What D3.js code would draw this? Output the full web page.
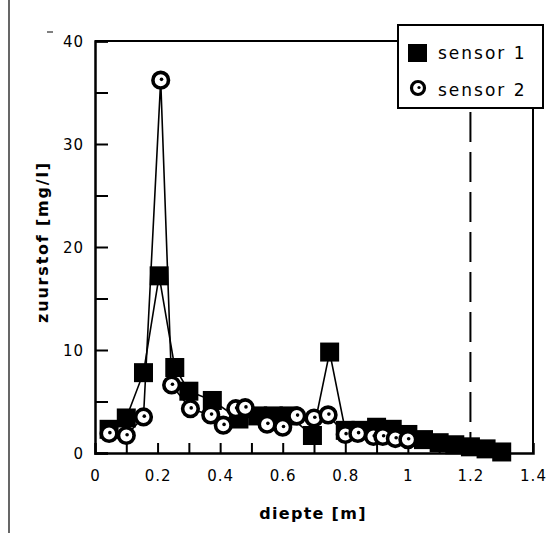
<!DOCTYPE html>
<html>
<head>
<meta charset="utf-8">
<script src="https://cdn.jsdelivr.net/npm/d3@7"></script>
<style>
  html, body { margin: 0; padding: 0; background: #fff; }
  svg { display: block; }
  text { font-family: "DejaVu Sans", "Liberation Sans", sans-serif; fill: #000; }
</style>
</head>
<body>
<svg id="chart" width="546" height="533"></svg>
<script>
// ---- data ----
const sensor1X = [0.045, 0.10, 0.155, 0.205, 0.255, 0.30, 0.375, 0.46, 0.52, 0.57, 0.62, 0.695, 0.75, 0.80, 0.85, 0.90, 0.95, 1.00, 1.05, 1.10, 1.15, 1.20, 1.25, 1.30];
const sensor1Y = [2.3, 3.4, 7.8, 17.2, 8.3, 6.0, 5.1, 3.3, 3.6, 3.6, 3.6, 1.7, 9.8, 2.2, 2.2, 2.5, 2.3, 1.8, 1.3, 1.0, 0.8, 0.6, 0.4, 0.1];
const sensor2X = [0.045, 0.10, 0.155, 0.21, 0.245, 0.305, 0.37, 0.41, 0.45, 0.48, 0.55, 0.60, 0.645, 0.70, 0.745, 0.80, 0.84, 0.89, 0.92, 0.96, 1.00];
const sensor2Y = [1.9, 1.7, 3.5, 36.2, 6.6, 4.3, 3.7, 2.7, 4.3, 4.4, 2.8, 2.5, 3.6, 3.4, 3.7, 1.8, 1.9, 1.6, 1.6, 1.4, 1.3];
const xTicks = [0, 0.2, 0.4, 0.6, 0.8, 1.0, 1.2, 1.4];
const xTickLabels = ["0", "0.2", "0.4", "0.6", "0.8", "1", "1.2", "1.4"];
const xMinorTicks = [0.1, 0.2, 0.3, 0.4, 0.5, 0.6, 0.7, 0.8, 0.9, 1.0, 1.1, 1.2, 1.3];
const yTicks = [0, 5, 10, 15, 20, 25, 30, 35, 40];
const yTickLabels = ["0", "", "10", "", "20", "", "30", "", "40"];
const seriesNames = ["sensor 1", "sensor 2"];
const markerLine = 1.2; // dashed reference depth
const xLabel = "diepte [m]";
const yLabel = "zuurstof [mg/l]";

// ---- layout ----
const svg = d3.select("#chart");
const L = 95, R = 533, T = 41, B = 453;
const x = d3.scaleLinear().domain([0, 1.4]).range([L, R]);
const y = d3.scaleLinear().domain([0, 40]).range([B, T]);

// scan-edge artifact line at far left
svg.append("line").attr("x1", 9).attr("x2", 9).attr("y1", 0).attr("y2", 533)
  .attr("stroke", "#000").attr("stroke-width", 1.2);
svg.append("line").attr("x1", 47).attr("x2", 53).attr("y1", 32).attr("y2", 32)
  .attr("stroke", "#000").attr("stroke-width", 1);

// frame
const frame = svg.append("g");
frame.append("line").attr("x1", L).attr("x2", 398).attr("y1", T).attr("y2", T).attr("stroke", "#000").attr("stroke-width", 2);
frame.append("line").attr("x1", R).attr("x2", R).attr("y1", 108).attr("y2", B).attr("stroke", "#000").attr("stroke-width", 2);

// y axis (inward ticks)
const yAxis = d3.axisLeft(y).tickValues(yTicks).tickSize(-13).tickPadding(11)
  .tickFormat((d, i) => yTickLabels[i]);
const gy = svg.append("g").attr("transform", `translate(${L},0)`).call(yAxis);
gy.select(".domain").attr("stroke", "#000").attr("stroke-width", 2.5);
gy.selectAll(".tick line").attr("stroke", "#000").attr("stroke-width", 2);
gy.selectAll(".tick text").style("font-size", "15px").attr("letter-spacing", "1px").attr("dy", "0.36em");

// x axis minor inward ticks
const xAxisMinor = d3.axisBottom(x).tickValues(xMinorTicks).tickSize(-10).tickFormat("");
const gxm = svg.append("g").attr("transform", `translate(0,${B})`).call(xAxisMinor);
gxm.select(".domain").attr("stroke", "#000").attr("stroke-width", 2.5);
gxm.selectAll(".tick line").attr("stroke", "#000").attr("stroke-width", 2);

// x axis labels
const xAxis = d3.axisBottom(x).tickValues(xTicks).tickSize(0).tickPadding(17)
  .tickFormat((d, i) => xTickLabels[i]);
const gx = svg.append("g").attr("transform", `translate(0,${B})`).call(xAxis);
gx.select(".domain").remove();
gx.selectAll(".tick text").style("font-size", "15px").attr("letter-spacing", "1px");

// axis titles
svg.append("text").attr("x", 313).attr("y", 519).attr("text-anchor", "middle")
  .style("font-size", "16px").style("font-weight", "bold").attr("letter-spacing", "1.3px").text(xLabel);
svg.append("text").attr("transform", "translate(48,242) rotate(-90)").attr("text-anchor", "middle")
  .style("font-size", "16px").style("font-weight", "bold").attr("letter-spacing", "1.8px").text(yLabel);

// dashed reference line
svg.append("line").attr("x1", x(markerLine)).attr("x2", x(markerLine))
  .attr("y1", 112).attr("y2", B)
  .attr("stroke", "#000").attr("stroke-width", 2).attr("stroke-dasharray", "30,10");

// series
const s1 = sensor1X.map((v, i) => [v, sensor1Y[i]]);
const s2 = sensor2X.map((v, i) => [v, sensor2Y[i]]);
const line = d3.line().x(d => x(d[0])).y(d => y(d[1]));

svg.append("path").datum(s1).attr("d", line).attr("fill", "none").attr("stroke", "#000").attr("stroke-width", 1.6);
const sq = 19;
svg.append("g").selectAll("rect").data(s1).join("rect")
  .attr("x", d => x(d[0]) - sq / 2).attr("y", d => y(d[1]) - sq / 2)
  .attr("width", sq).attr("height", sq).attr("fill", "#000");

svg.append("path").datum(s2).attr("d", line).attr("fill", "none").attr("stroke", "#000").attr("stroke-width", 1.6);
const g2 = svg.append("g").selectAll("g").data(s2).join("g")
  .attr("transform", d => `translate(${x(d[0])},${y(d[1])})`);
g2.append("circle").attr("r", 7.8).attr("fill", "#fff").attr("stroke", "#000").attr("stroke-width", 3.6);
g2.append("circle").attr("r", 1.8).attr("cx", 0.8).attr("cy", -0.8).attr("fill", "#000");

// legend
const lg = svg.append("g");
lg.append("rect").attr("x", 398).attr("y", 25).attr("width", 145).attr("height", 83)
  .attr("fill", "#fff").attr("stroke", "#000").attr("stroke-width", 2);
lg.append("rect").attr("x", 408).attr("y", 44).attr("width", 19).attr("height", 18).attr("fill", "#000");
lg.append("circle").attr("cx", 418).attr("cy", 88).attr("r", 6.5).attr("fill", "#fff").attr("stroke", "#000").attr("stroke-width", 3.2);
lg.append("circle").attr("cx", 419).attr("cy", 87.5).attr("r", 1.6).attr("fill", "#000");
lg.append("text").attr("x", 438).attr("y", 59).style("font-size", "17px").attr("letter-spacing", "2px").text(seriesNames[0]);
lg.append("text").attr("x", 438).attr("y", 96).style("font-size", "17px").attr("letter-spacing", "2px").text(seriesNames[1]);
</script>
</body>
</html>
